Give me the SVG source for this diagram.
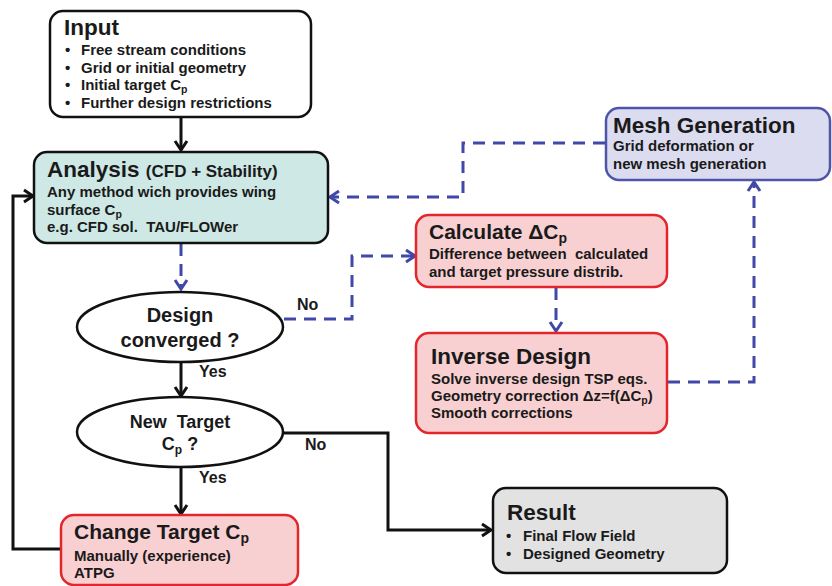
<svg xmlns="http://www.w3.org/2000/svg" width="832" height="586" viewBox="0 0 832 586">
<defs>
<marker id="ab" markerUnits="userSpaceOnUse" markerWidth="16" markerHeight="16" refX="11" refY="8" orient="auto">
<path d="M2,2 L11,8 L2,14" fill="none" stroke="#111" stroke-width="3"/>
</marker>
<marker id="au" markerUnits="userSpaceOnUse" markerWidth="16" markerHeight="16" refX="11" refY="8" orient="auto">
<path d="M2,2 L11,8 L2,14" fill="none" stroke="#4048a8" stroke-width="3"/>
</marker>
<style>
text{font-family:"Liberation Sans",Arial,sans-serif;font-weight:bold;fill:#1a1a1a}
.t{font-size:22.5px}
.b{font-size:15px}
.l{font-size:16px}
.sub{font-size:10.5px}
.blk{fill:#fff;stroke:#111;stroke-width:2.5}
.red{fill:#f9d0d1;stroke:#e3262c;stroke-width:2.5}
.tea{fill:#cde8e5;stroke:#111;stroke-width:2.5}
.lav{fill:#dcdcf0;stroke:#4e54a8;stroke-width:2.5}
.gry{fill:#e2e2e2;stroke:#111;stroke-width:2.5}
.c{fill:none;stroke:#111;stroke-width:3}
.d{fill:none;stroke:#4048a8;stroke-width:3;stroke-dasharray:12 8}
</style>
</defs>
<rect width="832" height="586" fill="#fff"/>

<g id="connectors">
<path class="c" d="M181,117 V150" marker-end="url(#ab)"/>
<path class="d" d="M181,244 V289" marker-end="url(#au)"/>
<path class="c" d="M181,362 V396" marker-end="url(#ab)"/>
<path class="c" d="M181,467 V514" marker-end="url(#ab)"/>
<path class="c" d="M282,433 H388 V530 H491" marker-end="url(#ab)"/>
<path class="c" d="M61,549 H13 V196 H33" marker-end="url(#ab)"/>
<path class="d" d="M284,319 H352 V256 H415" marker-end="url(#au)"/>
<path class="d" d="M556,288 V331" marker-end="url(#au)"/>
<path class="d" d="M668,382 H754 V182" marker-end="url(#au)"/>
<path class="d" d="M605,143 H463 V197 H330" marker-end="url(#au)"/>
<text class="l" x="297" y="310">No</text>
<text class="l" x="305" y="450">No</text>
<text class="l" x="199" y="377">Yes</text>
<text class="l" x="199" y="483">Yes</text>
</g>

<g id="input">
<rect class="blk" x="50" y="11" width="261" height="106" rx="13"/>
<text class="t" x="64" y="35">Input</text>
<text class="b" x="65" y="55">•</text><text class="b" x="81" y="55">Free stream conditions</text>
<text class="b" x="65" y="72.5">•</text><text class="b" x="81" y="72.5">Grid or initial geometry</text>
<text class="b" x="65" y="90">•</text><text class="b" x="81" y="90">Initial target C<tspan class="sub" dy="3">p</tspan></text>
<text class="b" x="65" y="107.5">•</text><text class="b" x="81" y="107.5">Further design restrictions</text>
</g>

<g id="analysis">
<rect class="tea" x="34" y="152" width="294" height="91" rx="13"/>
<text x="47" y="177"><tspan class="t">Analysis </tspan><tspan style="font-size:17px">(CFD + Stability)</tspan></text>
<text class="b" x="47" y="197">Any method wich provides wing</text>
<text class="b" x="47" y="214.5">surface C<tspan class="sub" dy="3">p</tspan></text>
<text class="b" x="47" y="232" xml:space="preserve">e.g. CFD sol.  TAU/FLOWer</text>
</g>

<g id="design-converged">
<ellipse class="blk" cx="180" cy="327" rx="103" ry="35"/>
<text x="180" y="322" text-anchor="middle" style="font-size:20px">Design</text>
<text x="180" y="347" text-anchor="middle" style="font-size:20px">converged ?</text>
</g>

<g id="new-target">
<ellipse class="blk" cx="180" cy="432" rx="103" ry="35"/>
<text x="180" y="428" text-anchor="middle" style="font-size:18px" xml:space="preserve">New  Target</text>
<text x="180" y="450" text-anchor="middle" style="font-size:18px">C<tspan style="font-size:12px" dy="4">p</tspan><tspan dy="-4"> ?</tspan></text>
</g>

<g id="change-target">
<rect class="red" x="61" y="515" width="237" height="70" rx="13"/>
<text x="74" y="539" style="font-size:21px">Change Target C<tspan style="font-size:14px" dy="4">p</tspan></text>
<text class="b" x="74" y="561">Manually (experience)</text>
<text class="b" x="74" y="578">ATPG</text>
</g>

<g id="calculate">
<rect class="red" x="416" y="215" width="251" height="72" rx="13"/>
<text x="429" y="239" style="font-size:21px">Calculate ΔC<tspan style="font-size:14px" dy="4">p</tspan></text>
<text class="b" x="429" y="259" xml:space="preserve">Difference between  calculated</text>
<text class="b" x="429" y="277">and target pressure distrib.</text>
</g>

<g id="inverse-design">
<rect class="red" x="416" y="333" width="251" height="100" rx="13"/>
<text class="t" x="431" y="364">Inverse Design</text>
<text class="b" x="431" y="384">Solve inverse design TSP eqs.</text>
<text class="b" x="431" y="401">Geometry correction Δz=f(ΔC<tspan class="sub" dy="3">p</tspan><tspan dy="-3">)</tspan></text>
<text class="b" x="431" y="418">Smooth corrections</text>
</g>

<g id="mesh-generation">
<rect class="lav" x="606" y="108" width="224" height="72" rx="13"/>
<text class="t" x="613" y="133">Mesh Generation</text>
<text class="b" x="613" y="151">Grid deformation or</text>
<text class="b" x="613" y="169">new mesh generation</text>
</g>

<g id="result">
<rect class="gry" x="493" y="488" width="234" height="85" rx="13"/>
<text class="t" x="507" y="520">Result</text>
<text class="b" x="506" y="541">•</text><text class="b" x="523" y="541">Final Flow Field</text>
<text class="b" x="506" y="559">•</text><text class="b" x="523" y="559">Designed Geometry</text>
</g>
</svg>
